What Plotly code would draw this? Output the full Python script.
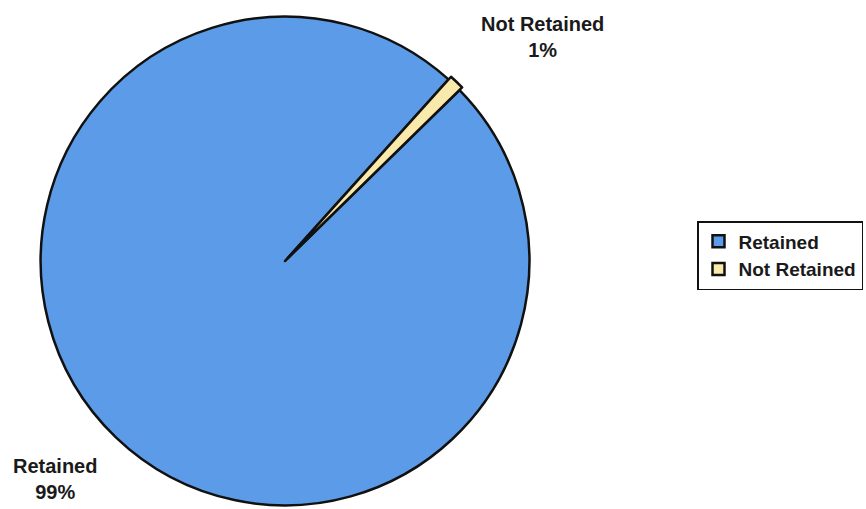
import plotly.graph_objects as go

labels = ["Retained", "Not Retained"]
percents = [99, 1]
colors = ["#5b9be7", "#f9e9ab"]
label_pos = {"Retained": (0.063, 0.059), "Not Retained": (0.627, 0.927)}

FONT = "Liberation Sans, Arial, sans-serif"

fig = go.Figure()
fig.add_trace(go.Pie(
    labels=[f"<b>{l}</b>" for l in labels],
    values=percents,
    sort=False,
    direction="clockwise",
    rotation=45.6,
    pull=[0, 0.015],
    marker=dict(colors=colors, line=dict(color="#111111", width=2.5)),
    textinfo="none",
    hoverinfo="label+percent",
    domain=dict(x=[33 / 866, 537 / 866], y=[0, 1 - 13 / 509]),
))

for lab, pct in zip(labels, percents):
    x, y = label_pos[lab]
    fig.add_annotation(
        x=x, y=y, xref="paper", yref="paper",
        text=f"<b>{lab}<br>{pct}%</b>",
        showarrow=False, xanchor="center", yanchor="middle",
        font=dict(family=FONT, size=20, color="#1a1a1a"),
        align="center",
    )

fig.update_layout(
    width=866, height=509,
    margin=dict(l=0, r=0, t=0, b=0),
    paper_bgcolor="white", plot_bgcolor="white",
    showlegend=True,
    legend=dict(
        x=697 / 866, y=1 - 221 / 509, xanchor="left", yanchor="top",
        bordercolor="#111111", borderwidth=1.5,
        font=dict(family=FONT, size=19, color="#1a1a1a"),
        itemwidth=30,
    ),
)

fig.write_html("out.html")
